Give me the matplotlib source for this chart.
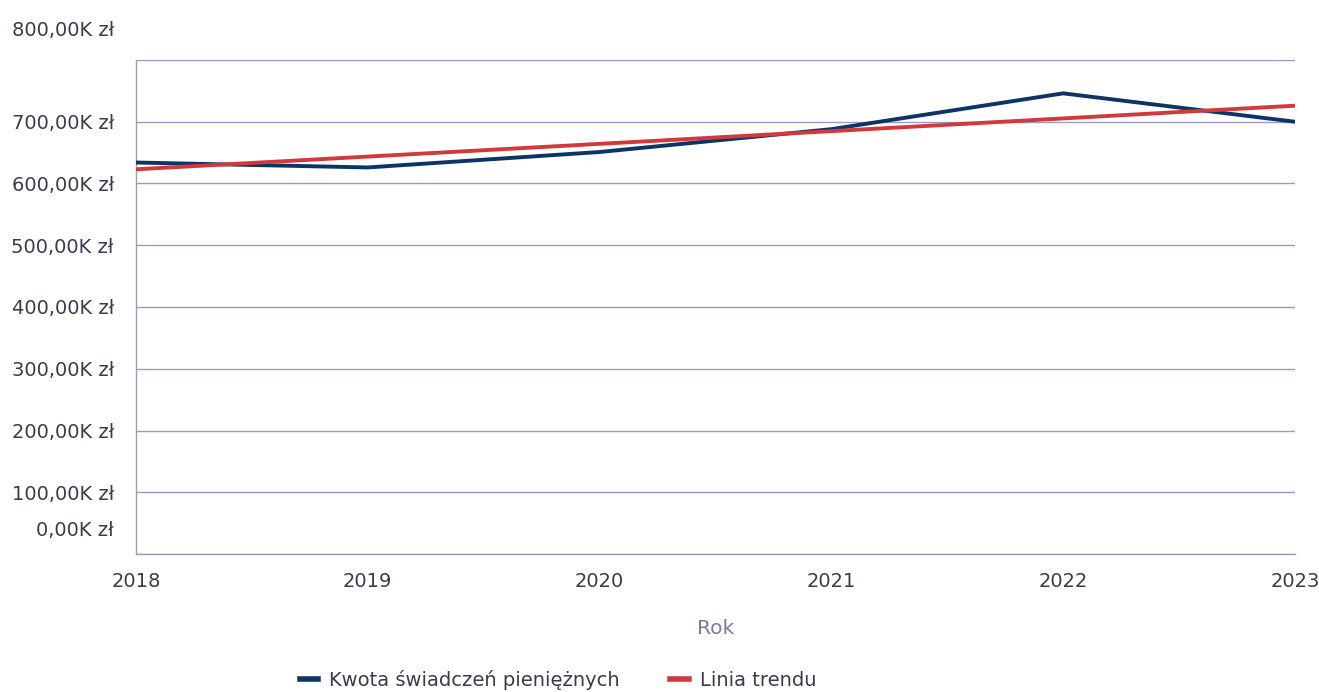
import matplotlib
matplotlib.use("Agg")
import matplotlib.pyplot as plt
from matplotlib.transforms import ScaledTranslation
from matplotlib.lines import Line2D

years = [2018, 2019, 2020, 2021, 2022, 2023]
amounts = [634000, 626000, 651000, 688000, 746000, 700000]
trend = [623000, 643600, 664200, 684800, 705400, 726000]
yticks = [0, 100000, 200000, 300000, 400000, 500000, 600000, 700000, 800000]
series_names = ["Kwota świadczeń pieniężnych", "Linia trendu"]
x_title = "Rok"

def fmt(v):
    return f"{v/1000:,.2f}".replace(",", " ").replace(".", ",") + "K zł"

plt.rcParams['font.family'] = ['DejaVu Sans']
text_color = "#3b3b4f"
grid_color = "#9b9bc2"
blue = "#0c3565"
red = "#d13a3c"

fig = plt.figure(figsize=(13.19, 6.92), dpi=100)
ax = fig.add_axes([136/1319, 138/692, (1295-136)/1319, (554-60)/692])

ax.plot(years, amounts, color=blue, lw=2.8, solid_capstyle='butt', zorder=3)
ax.plot(years, trend, color=red, lw=2.8, solid_capstyle='butt', zorder=4)

ax.set_xlim(years[0], years[-1])
ax.set_ylim(0, 800000)
ax.set_yticks(yticks)
ax.set_yticklabels([fmt(v) for v in yticks])
ax.set_xticks(years)
ax.set_xticklabels([str(y) for y in years])
ax.grid(axis='y', color=grid_color, lw=1.0)
ax.set_axisbelow(True)
for s in ['top', 'right']:
    ax.spines[s].set_visible(False)
for s in ['left', 'bottom']:
    ax.spines[s].set_color(grid_color)
    ax.spines[s].set_linewidth(1.0)
ax.tick_params(axis='both', length=0, labelsize=14, labelcolor=text_color)
ax.tick_params(axis='y', pad=16)
ax.tick_params(axis='x', pad=13)

labels = ax.get_yticklabels()
labels[0].set_transform(labels[0].get_transform() + ScaledTranslation(0, 25/100, fig.dpi_scale_trans))
labels[-1].set_transform(labels[-1].get_transform() + ScaledTranslation(0, 32/100, fig.dpi_scale_trans))

ax.set_xlabel(x_title, fontsize=14.5, color="#7a7aa0", labelpad=20)

handles = [Line2D([], [], color=blue, lw=4.0), Line2D([], [], color=red, lw=4.0)]
leg = fig.legend(handles, series_names, loc='center', bbox_to_anchor=(558/1319, 1 - 680/692),
                 ncol=2, frameon=False, fontsize=14, handlelength=0.95, handletextpad=0.55,
                 columnspacing=2.6)
for t in leg.get_texts():
    t.set_color(text_color)

fig.savefig("out.png", dpi=100)
